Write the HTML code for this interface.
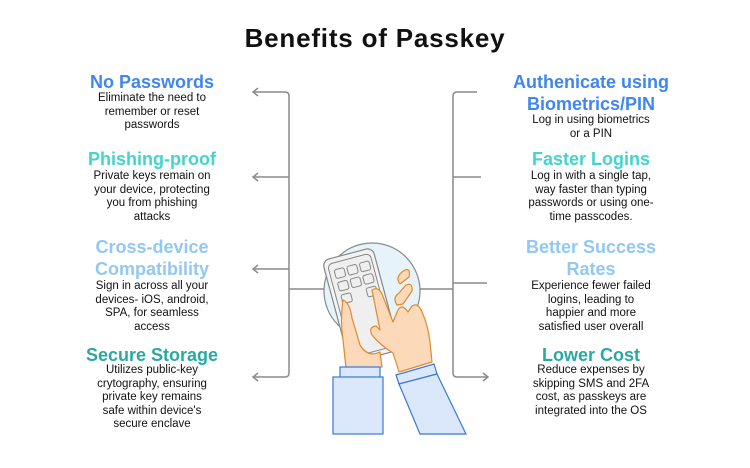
<!DOCTYPE html>
<html><head><meta charset="utf-8"><style>
body{margin:0;width:750px;height:468px;background:#fff;position:relative;overflow:hidden;font-family:"Liberation Sans",sans-serif}
.t{position:absolute;text-align:center;font-weight:bold;font-size:18px;line-height:22px;letter-spacing:0px}
.b{position:absolute;text-align:center;font-size:11.5px;line-height:13.6px;color:#111}
.L{left:42px;width:220px}
.R{left:481px;width:220px}
h1{position:absolute;top:23px;left:0;width:750px;text-align:center;margin:0;font-size:26px;letter-spacing:0.8px;font-weight:bold;color:#111}
</style></head><body>
<h1>Benefits of Passkey</h1>
<svg width="750" height="468" style="position:absolute;left:0;top:0" fill="none">
<g stroke="#8a8a8a" stroke-width="1.5">
<path d="M253 92H285Q289 92 289 96V373Q289 377 285 377H253"/>
<path d="M253 177H289M253 269H289M289 289H324"/>
<path d="M477 92H457Q453 92 453 96V373Q453 377 457 377H488"/>
<path d="M453 177H481M453 283H487M420 289H453"/>
<path d="M258 88L253 92L258 96M258 173L253 177L258 181M258 265L253 269L258 273M258 373L253 377L258 381M483 373L488 377L483 381"/>
</g>
<circle cx="372" cy="291" r="48" fill="#e6f4fa" stroke="#8a8a8a" stroke-width="1.2"/>
<g transform="rotate(-15 362 305)">
<rect x="335" y="252" width="52" height="106" rx="7" fill="#f3f3f3" stroke="#888" stroke-width="1.2"/>
<rect x="339" y="257" width="44" height="96" rx="5" fill="#efefef" stroke="#888" stroke-width="1"/>
<g fill="#efefef" stroke="#888" stroke-width="1">
<rect x="344" y="264" width="10" height="9" rx="2"/><rect x="357" y="264" width="10" height="9" rx="2"/><rect x="370" y="264" width="10" height="9" rx="2"/>
<rect x="344" y="277" width="10" height="9" rx="2"/><rect x="357" y="277" width="10" height="9" rx="2"/><rect x="370" y="277" width="10" height="9" rx="2"/>
<rect x="344" y="290" width="10" height="9" rx="2"/><rect x="370" y="290" width="10" height="9" rx="2"/>
</g></g>
<g fill="#fcd9b8" stroke="#e08a2e" stroke-width="1.2" stroke-linejoin="round">
<path d="M343 300Q350 303 352 318L360 345Q368 358 380 352L382 367L346 368L343 340Q340 320 343 300Z"/>
<path d="M372 290Q378 286 382 294L393 322L398 310Q402 303 408 312L412 306Q418 302 422 312Q428 325 430 342L432 362L399 372L393 353Q380 345 372 335Q368 327 376 326L380 330Z"/>
<path d="M397 305Q392 298 399 293L406 285Q413 282 412 291L403 304Z"/>
<path d="M400 284Q395 278 402 272L405 270Q411 268 409 277Z"/>
</g>
<g fill="#dbe8fb" stroke="#3a78d8" stroke-width="1.2">
<rect x="340" y="367" width="40" height="11"/>
<rect x="333" y="377" width="50" height="57"/>
<path d="M396 375L434 364L437 374L399 384Z"/>
<path d="M399 384L437 374L466 434H420Z"/>
</g>
</svg>
<div class="t L" style="top:71px;color:#3f86ee">No Passwords</div>
<div class="b L" style="top:92px">Eliminate the need to<br>remember or reset<br>passwords</div>
<div class="t L" style="top:148px;color:#45d3cf">Phishing-proof</div>
<div class="b L" style="top:170px">Private keys remain on<br>your device, protecting<br>you from phishing<br>attacks</div>
<div class="t L" style="top:236px;color:#92c8f2">Cross-device<br>Compatibility</div>
<div class="b L" style="top:280px">Sign in across all your<br>devices- iOS, android,<br>SPA, for seamless<br>access</div>
<div class="t L" style="top:344px;color:#2aa9a2">Secure Storage</div>
<div class="b L" style="top:364px">Utilizes public-key<br>crytography, ensuring<br>private key remains<br>safe within device's<br>secure enclave</div>
<div class="t R" style="top:71px;color:#3f86ee">Authenicate using<br>Biometrics/PIN</div>
<div class="b R" style="top:114px">Log in using biometrics<br>or a PIN</div>
<div class="t R" style="top:148px;color:#45d3cf">Faster Logins</div>
<div class="b R" style="top:170px">Log in with a single tap,<br>way faster than typing<br>passwords or using one-<br>time passcodes.</div>
<div class="t R" style="top:236px;color:#92c8f2">Better Success<br>Rates</div>
<div class="b R" style="top:280px">Experience fewer failed<br>logins, leading to<br>happier and more<br>satisfied user overall</div>
<div class="t R" style="top:344px;color:#2aa9a2">Lower Cost</div>
<div class="b R" style="top:364px">Reduce expenses by<br>skipping SMS and 2FA<br>cost, as passkeys are<br>integrated into the OS</div>
</body></html>
